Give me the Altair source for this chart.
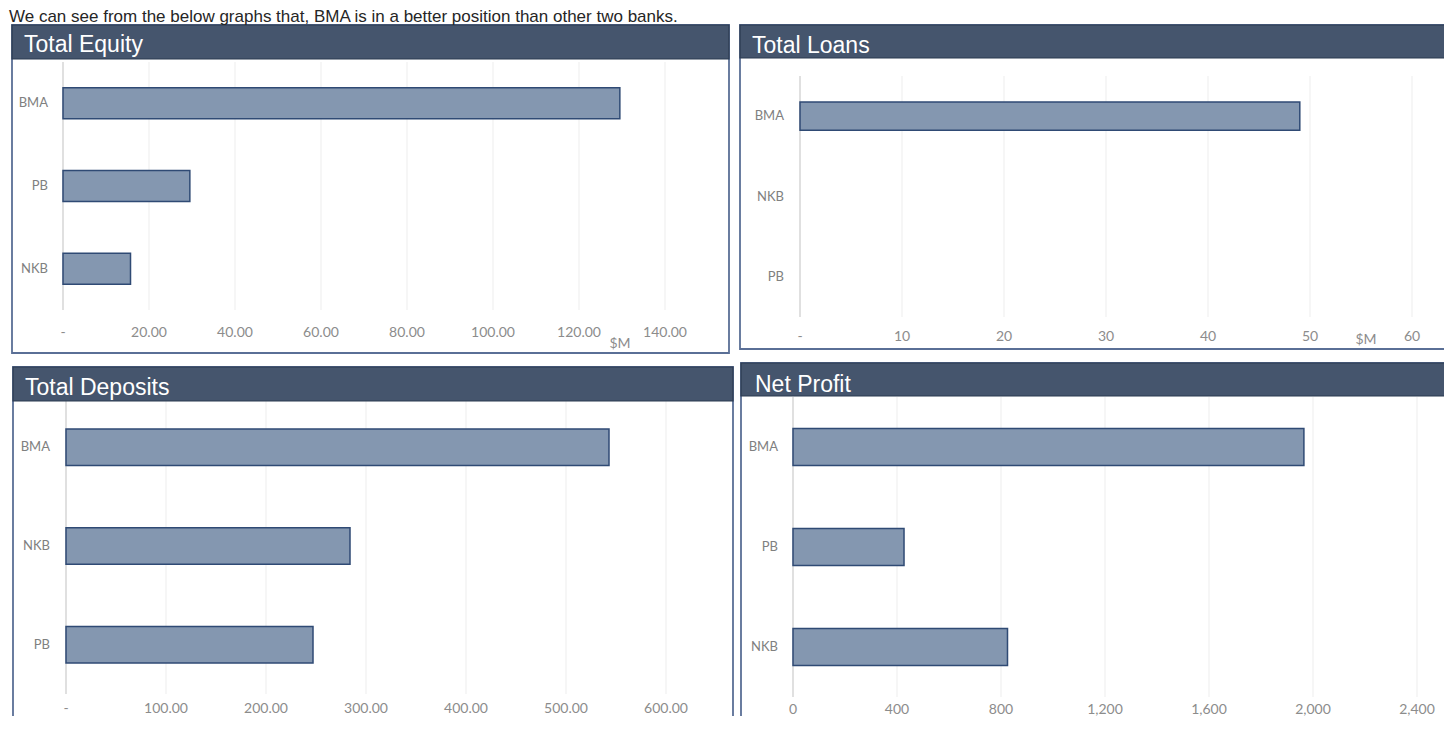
import altair as alt
import pandas as pd

# ---------------- data ----------------
intro_text = "We can see from the below graphs that, BMA is in a better position than other two banks."
panel_titles = ["Total Equity", "Total Loans", "Total Deposits", "Net Profit"]
unit_text = "$M"

equity_banks = ["BMA", "PB", "NKB"]
equity_values = [129.5, 29.5, 15.7]
equity_ticks = [0, 20, 40, 60, 80, 100, 120, 140]
equity_tick_labels = ["-", "20.00", "40.00", "60.00", "80.00", "100.00", "120.00", "140.00"]

loans_banks = ["BMA", "NKB", "PB"]
loans_values = [49.0, None, None]
loans_ticks = [0, 10, 20, 30, 40, 50, 60]
loans_tick_labels = ["-", "10", "20", "30", "40", "50", "60"]

deposits_banks = ["BMA", "NKB", "PB"]
deposits_values = [543.0, 284.0, 247.0]
deposits_ticks = [0, 100, 200, 300, 400, 500, 600]
deposits_tick_labels = ["-", "100.00", "200.00", "300.00", "400.00", "500.00", "600.00"]

profit_banks = ["BMA", "PB", "NKB"]
profit_values = [1965, 427, 825]
profit_ticks = [0, 400, 800, 1200, 1600, 2000, 2400]
profit_tick_labels = ["0", "400", "800", "1,200", "1,600", "2,000", "2,400"]

# ---------------- styles ----------------
HEADER_FILL = "#45556D"
HEADER_STROKE = "#2B3A50"
BAR_FILL = "#8497B0"
BAR_STROKE = "#2F4A74"
BOX_STROKE = "#5A6F96"
GRID = "#EDEDED"
AXIS_LINE = "#D9D9D9"
LABEL = "#8C8C8C"
YLABEL = "#808080"

W_TOTAL, H_TOTAL = 1436, 708   # svg size (page minus 8px margins)
M = 8                          # page margin: page px -> chart px

one = pd.DataFrame({"k": [0]})


def vrect(x1, y1, x2, y2, **kw):
    return alt.Chart(one).mark_rect(**kw).encode(
        x=alt.value(x1 - M), x2=alt.value(x2 - M),
        y=alt.value(y1 - M), y2=alt.value(y2 - M),
    )


def vtext(txt, x, y, **kw):
    d = pd.DataFrame({"t": [txt]})
    return alt.Chart(d).mark_text(**kw).encode(
        x=alt.value(x - M), y=alt.value(y - M), text=alt.Text("t:N")
    )


def panel(title, banks, values, ticks, tick_labels, g, unit_pos=None):
    x0, x1 = g["x"]          # page px of first / last tick
    y0, y1 = g["y"]          # page px of band range
    p = g["pad"]
    xs = alt.Scale(domain=[ticks[0], ticks[-1]], range=[x0 - M, x1 - M],
                   nice=False, zero=False)
    ys = alt.Scale(domain=banks, range=[y0 - M, y1 - M],
                   paddingInner=p, paddingOuter=p / 2)

    tick_df = pd.DataFrame({"tick": ticks, "label": tick_labels})
    bar_df = pd.DataFrame({"bank": banks, "value": values})
    zero_df = pd.DataFrame({"tick": [ticks[0]]})

    grid = alt.Chart(tick_df).mark_rule(color=GRID, strokeWidth=1).encode(
        x=alt.X("tick:Q", scale=xs, axis=None),
        y=alt.value(y0 - M), y2=alt.value(y1 - M),
    )
    axis_line = alt.Chart(zero_df).mark_rule(color=AXIS_LINE, strokeWidth=1.5).encode(
        x=alt.X("tick:Q", scale=xs, axis=None),
        y=alt.value(y0 - M), y2=alt.value(y1 - M),
    )
    bars = alt.Chart(bar_df).mark_bar(
        fill=BAR_FILL, stroke=BAR_STROKE, strokeWidth=1.5
    ).encode(
        x=alt.X("value:Q", scale=xs, axis=None),
        y=alt.Y("bank:N", scale=ys, sort=banks, axis=None),
    )
    xlabels = alt.Chart(tick_df).mark_text(
        font="Lato", fontSize=14, color=LABEL, baseline="middle", align="center"
    ).encode(
        x=alt.X("tick:Q", scale=xs, axis=None),
        y=alt.value(g["xlab_y"] - M),
        text=alt.Text("label:N"),
    )
    ylabels = alt.Chart(bar_df).mark_text(
        font="Lato", fontSize=13, color=YLABEL, baseline="middle", align="right"
    ).encode(
        x=alt.value(g["ylab_x"] - M),
        y=alt.Y("bank:N", scale=ys, sort=banks, axis=None),
        text=alt.Text("bank:N"),
    )
    bx1, by1, bx2, by2 = g["box"]
    layers = [
        grid,
        axis_line,
        bars,
        xlabels,
        ylabels,
        vrect(bx1, by1, bx2, by2, fill="transparent", stroke=BOX_STROKE,
              strokeWidth=1.8),
        vrect(bx1, by1, bx2, g["hbottom"], fill=HEADER_FILL,
              stroke=HEADER_STROKE, strokeWidth=1.2),
        vtext(title, g["title"][0], g["title"][1], align="left",
              baseline="alphabetic", font="Liberation Sans", fontSize=23,
              color="white"),
    ]
    if unit_pos is not None:
        layers.append(vtext(unit_text, unit_pos[0], unit_pos[1], align="center",
                            baseline="middle", font="Lato", fontSize=14,
                            color=LABEL))
    return alt.layer(*layers)


# geometry in page pixels
g1 = dict(x=(63, 665), y=(62, 310), pad=0.625, box=(12, 25, 729, 353),
          hbottom=59, title=(24, 52), xlab_y=333, ylab_x=48)
g2 = dict(x=(800, 1412), y=(76, 317), pad=0.65, box=(740, 25, 1480, 349),
          hbottom=58, title=(752, 53), xlab_y=337, ylab_x=784)
g3 = dict(x=(66, 666), y=(398, 694), pad=0.63, box=(13, 367, 733, 760),
          hbottom=401, title=(25, 395), xlab_y=709, ylab_x=50)
g4 = dict(x=(793, 1417), y=(397, 697), pad=0.63, box=(741, 363, 1480, 760),
          hbottom=396, title=(755, 392), xlab_y=710, ylab_x=778)

p1 = panel(panel_titles[0], equity_banks, equity_values, equity_ticks,
           equity_tick_labels, g1, unit_pos=(620, 344))
p2 = panel(panel_titles[1], loans_banks, loans_values, loans_ticks,
           loans_tick_labels, g2, unit_pos=(1366, 340))
p3 = panel(panel_titles[2], deposits_banks, deposits_values, deposits_ticks,
           deposits_tick_labels, g3)
p4 = panel(panel_titles[3], profit_banks, profit_values, profit_ticks,
           profit_tick_labels, g4)

intro = vtext(intro_text, 9, 22, align="left", baseline="alphabetic",
              font="Liberation Sans", fontSize=17, color="#262626")

chart = alt.layer(p1, p2, p3, p4, intro).resolve_scale(
    x="independent", y="independent"
).properties(
    width=W_TOTAL, height=H_TOTAL,
    autosize=alt.AutoSizeParams(type="none"),
    padding=0,
).configure_view(stroke="transparent")

chart.save("out.html", embed_options={"renderer": "svg", "actions": False})
